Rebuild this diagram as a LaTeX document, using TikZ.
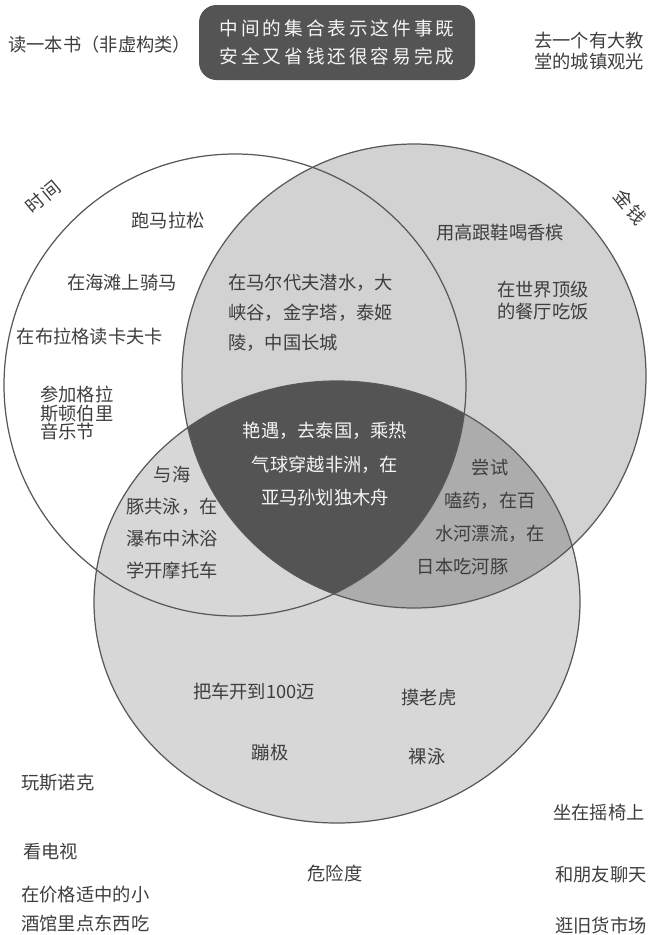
\documentclass[tikz,border=0pt]{standalone}
\usepackage{fontspec}
\setmainfont{Noto Sans CJK SC}
\usepackage{xcolor}
\definecolor{ink}{RGB}{62,62,62}
\definecolor{paper}{RGB}{245,245,245}
\definecolor{edge}{RGB}{88,88,88}
\definecolor{rgray}{RGB}{210,210,210}
\definecolor{bgray}{RGB}{215,215,215}
\definecolor{mgray}{RGB}{172,172,172}
\definecolor{dgray}{RGB}{84,84,84}

\begin{document}
\begin{tikzpicture}[
    txt/.style={text=ink, inner sep=0pt, font=\fontsize{10.4}{13}\selectfont},
    txtw/.style={txt, text=paper},
    tilted/.style={txt, font=\fontsize{10.4}{13}\selectfont\addfontfeatures{LetterSpace=12}},
    ring/.style={draw=edge, line width=0.7pt}]

\useasboundingbox (0,0) rectangle (13.02,-18.70);

% Circle centres
\coordinate (ctime) at (4.70,-7.70);
\coordinate (cmoney) at (8.28,-7.52);
\coordinate (crisk) at (6.74,-12.04);

% Fills
\fill[rgray] (cmoney) circle (4.64);
\fill[bgray] (crisk) ellipse (4.86 and 4.42);
\begin{scope}
    \clip (cmoney) circle (4.64);
    \fill[mgray] (crisk) ellipse (4.86 and 4.42);
    \clip (ctime) circle (4.62);
    \fill[dgray] (crisk) ellipse (4.86 and 4.42);
\end{scope}

% Outlines
\draw[ring] (ctime) circle (4.62);
\draw[ring] (cmoney) circle (4.64);
\draw[ring] (crisk) ellipse (4.86 and 4.42);

% Top row
\node[txt, anchor=west] (book) at (0.16,-0.90) {读一本书（非虚构类）};
\node[txtw,
    fill=dgray,
    rounded corners=0.35cm,
    minimum width=5.52cm,
    minimum height=1.50cm,
    align=center,
    font=\fontsize{10.6}{16}\selectfont\addfontfeatures{LetterSpace=16}] (rule) at (6.74,-0.85)
    {中间的集合表示这件事既\\安全又省钱还很容易完成};
\node[txt, align=center, font=\fontsize{10.4}{12}\selectfont] (church) at (11.78,-1.03)
    {去一个有大教\\堂的城镇观光};

% Set labels
\node[tilted, rotate=40] (time) at (0.86,-3.94) {时间};
\node[tilted, rotate=-50] (money) at (12.60,-4.14) {金钱};
\node[txt] (risk) at (6.70,-17.48) {危险度};

% Time only
\node[txt] (marathon) at (3.36,-4.40) {跑马拉松};
\node[txt] (horse) at (2.44,-5.66) {在海滩上骑马};
\node[txt] (kafka) at (1.80,-6.74) {在布拉格读卡夫卡};
\node[txt, anchor=west, align=left, font=\fontsize{10.4}{10.8}\selectfont] (glaston) at (0.80,-8.26)
    {参加格拉\\斯顿伯里\\音乐节};

% Time and money
\node[txt, anchor=west, align=left, font=\fontsize{10.4}{17}\selectfont] (travel) at (4.56,-6.26)
    {在马尔代夫潜水，大\\峡谷，金字塔，泰姬\\陵，中国长城};

% Money only
\node[txt] (heels) at (10.00,-4.66) {用高跟鞋喝香槟};
\node[txt, align=center, font=\fontsize{10.4}{12.5}\selectfont] (dinner) at (10.86,-6.02)
    {在世界顶级\\的餐厅吃饭};

% All three
\node[txtw, align=center, font=\fontsize{10.4}{19.3}\selectfont] (affair) at (6.50,-9.28)
    {艳遇，去泰国，乘热\\气球穿越非洲，在\\亚马孙划独木舟};

% Time and risk
\node[txt, align=center, font=\fontsize{10.4}{18.2}\selectfont] (dolphin) at (3.44,-10.46)
    {与海\\豚共泳，在\\瀑布中沐浴\\学开摩托车};

% Money and risk
\node[txt, align=center, font=\fontsize{10.4}{18.8}\selectfont] (drugs) at (9.80,-10.34)
    {尝试\\嗑药，在百\\水河漂流，在\\日本吃河豚\hspace*{3.0em}};

% Risk only
\node[txt] (speed) at (5.08,-13.84) {把车开到100迈};
\node[txt] (tiger) at (8.58,-13.96) {摸老虎};
\node[txt] (bungee) at (5.40,-15.06) {蹦极};
\node[txt] (naked) at (8.54,-15.14) {裸泳};

% Outside, left
\node[txt, anchor=west] (snooker) at (0.42,-15.66) {玩斯诺克};
\node[txt, anchor=west] (tv) at (0.46,-17.04) {看电视};
\node[txt, anchor=west, align=left, font=\fontsize{10.4}{16}\selectfont] (pub) at (0.42,-18.18)
    {在价格适中的小\\酒馆里点东西吃};

% Outside, right
\node[txt, anchor=west] (rocker) at (11.06,-16.26) {坐在摇椅上};
\node[txt, anchor=west] (chat) at (11.10,-17.50) {和朋友聊天};
\node[txt, anchor=west] (flea) at (11.10,-18.50) {逛旧货市场};

\end{tikzpicture}
\end{document}
